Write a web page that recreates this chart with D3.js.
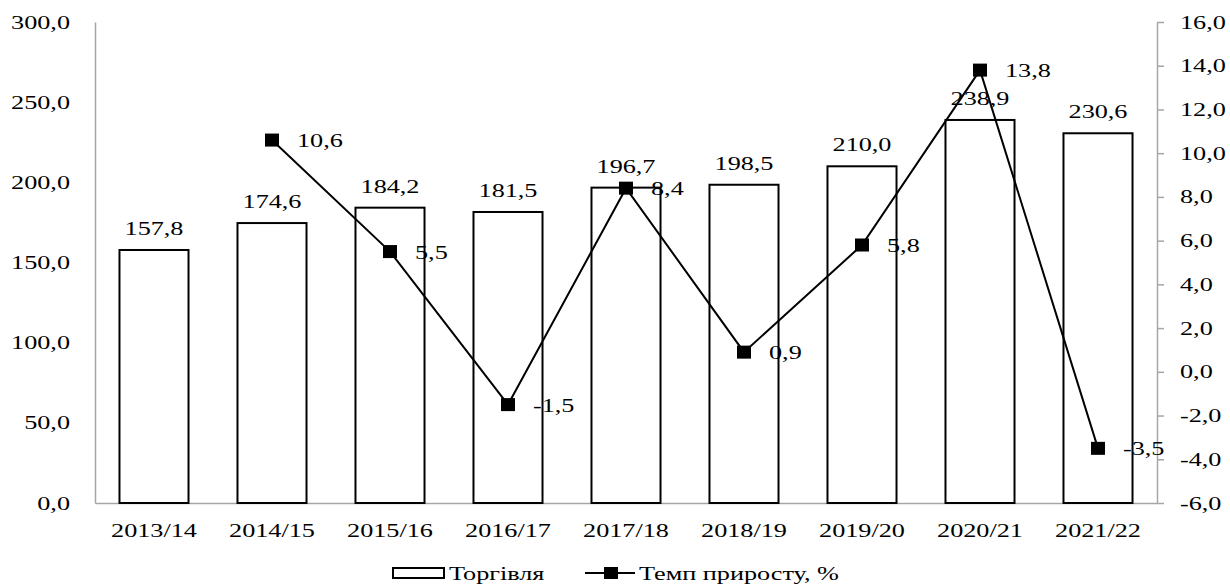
<!DOCTYPE html>
<html>
<head>
<meta charset="utf-8">
<script src="https://cdn.jsdelivr.net/npm/d3@7"></script>
<style>
  body { margin: 0; background: #fff; }
  text { font-family: "Liberation Serif", "Times New Roman", serif; fill: #000; }
</style>
</head>
<body>
<div id="chart"></div>
<script>
// data
var years = ["2013/14", "2014/15", "2015/16", "2016/17", "2017/18", "2018/19", "2019/20", "2020/21", "2021/22"];
var trade = [157.8, 174.6, 184.2, 181.5, 196.7, 198.5, 210.0, 238.9, 230.6];
var growth = [null, 10.6, 5.5, -1.5, 8.4, 0.9, 5.8, 13.8, -3.5];
var leftTicks = [0, 50, 100, 150, 200, 250, 300];
var rightTicks = [-6, -4, -2, 0, 2, 4, 6, 8, 10, 12, 14, 16];

var W = 1230, H = 586;
var margin = { top: 22, right: 73, bottom: 83, left: 95 },
    width = W - margin.left - margin.right,
    height = H - margin.top - margin.bottom;

var sx = 1.38; // text in the picture is stretched sideways
var fmt = function (v) { return v.toFixed(1).replace(".", ","); };

var svg = d3.select("#chart")
    .append("svg")
    .attr("width", W)
    .attr("height", H)
    .append("g")
    .attr("transform", "translate(" + margin.left + "," + margin.top + ")");

function stretch(sel) {
    sel.each(function () {
        var t = d3.select(this);
        var x = +t.attr("x") || 0;
        t.attr("x", 0).attr("transform", "translate(" + x + ",0) scale(" + sx + ",1)");
    });
}

function label(g, x, y, txt, anchor) {
    g.append("text")
        .attr("transform", "translate(" + x + "," + y + ") scale(" + sx + ",1)")
        .attr("text-anchor", anchor)
        .style("font-size", "19px")
        .text(txt);
}

var x = d3.scaleBand().domain(years).range([0, width]).paddingInner(0.415).paddingOuter(0.2075);
var y = d3.scaleLinear().domain([0, 300]).range([height, 0]);
var y2 = d3.scaleLinear().domain([-6, 16]).range([height, 0]);

// left axis
var gl = svg.append("g")
    .call(d3.axisLeft(y).tickValues(leftTicks).tickSize(0).tickPadding(25).tickFormat(fmt));
gl.select(".domain").attr("stroke", "#a6a6a6").attr("stroke-width", 1.5);
gl.selectAll("text").style("font-size", "19px").style("font-family", "Liberation Serif").call(stretch);

// right axis
var gr = svg.append("g")
    .attr("transform", "translate(" + width + ",0)")
    .call(d3.axisRight(y2).tickValues(rightTicks).tickSizeInner(7).tickSizeOuter(0).tickPadding(16).tickFormat(fmt));
gr.select(".domain").attr("stroke", "#a6a6a6").attr("stroke-width", 1.5);
gr.selectAll("line").attr("stroke", "#a6a6a6").attr("stroke-width", 1.5);
gr.selectAll("text").style("font-size", "19px").style("font-family", "Liberation Serif").call(stretch);

// bottom axis
var gb = svg.append("g")
    .attr("transform", "translate(0," + height + ")")
    .call(d3.axisBottom(x).tickSize(0).tickPadding(21));
gb.select(".domain").attr("stroke", "#a6a6a6").attr("stroke-width", 1.5);
gb.selectAll("text").style("font-size", "19px").style("font-family", "Liberation Serif")
    .each(function () {
        d3.select(this).attr("transform", "scale(" + sx + ",1)");
    });

// bars
svg.append("g")
    .selectAll("rect.bar")
    .data(trade)
    .enter()
    .append("rect")
    .attr("class", "bar")
    .attr("x", function (d, i) { return x(years[i]); })
    .attr("y", function (d) { return y(d); })
    .attr("width", x.bandwidth())
    .attr("height", function (d) { return height - y(d); })
    .attr("fill", "#fff")
    .attr("stroke", "#000")
    .attr("stroke-width", 2);

var gLab = svg.append("g");
trade.forEach(function (d, i) {
    label(gLab, x(years[i]) + x.bandwidth() / 2, y(d) - 15, fmt(d), "middle");
});

// growth line
var pts = growth.map(function (v, i) { return { year: years[i], v: v }; })
    .filter(function (d) { return d.v != null; });

svg.append("path")
    .datum(pts)
    .attr("fill", "none")
    .attr("stroke", "#000")
    .attr("stroke-width", 2)
    .attr("d", d3.line()
        .x(function (d) { return x(d.year) + x.bandwidth() / 2; })
        .y(function (d) { return y2(d.v); }));

svg.append("g")
    .selectAll("rect.mk")
    .data(pts)
    .enter()
    .append("rect")
    .attr("class", "mk")
    .attr("x", function (d) { return x(d.year) + x.bandwidth() / 2 - 7; })
    .attr("y", function (d) { return y2(d.v) - 6.5; })
    .attr("width", 14)
    .attr("height", 13)
    .attr("fill", "#000");

pts.forEach(function (d) {
    label(gLab, x(d.year) + x.bandwidth() / 2 + 25, y2(d.v) + 7, fmt(d.v), "start");
});

// legend
var lg = d3.select("svg").append("g");
lg.append("rect")
    .attr("x", 393).attr("y", 568).attr("width", 51).attr("height", 10)
    .attr("fill", "#fff").attr("stroke", "#000").attr("stroke-width", 2);
label(lg, 449, 580, "Торгівля", "start");
lg.append("line")
    .attr("x1", 585).attr("x2", 635).attr("y1", 573).attr("y2", 573)
    .attr("stroke", "#000").attr("stroke-width", 2);
lg.append("rect")
    .attr("x", 604).attr("y", 567).attr("width", 14).attr("height", 12).attr("fill", "#000");
label(lg, 639, 580, "Темп приросту, %", "start");
</script>
</body>
</html>
